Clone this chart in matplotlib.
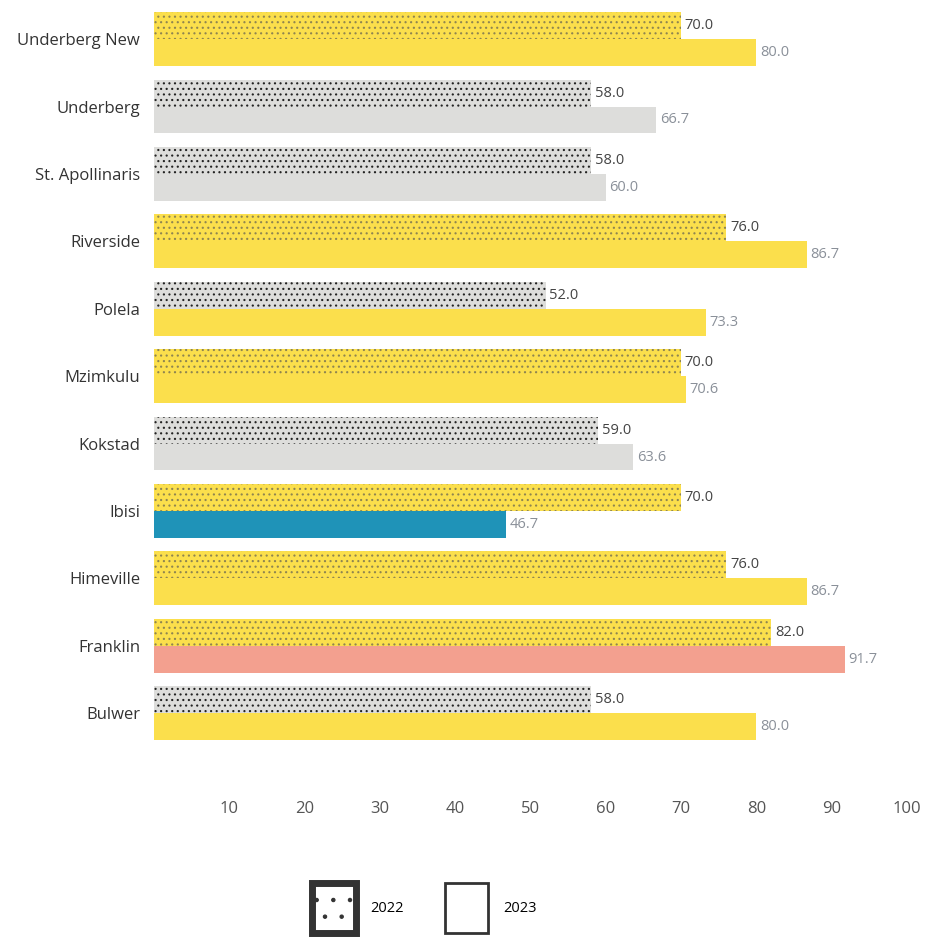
import matplotlib
matplotlib.use("Agg")
import matplotlib.pyplot as plt
from matplotlib.patches import Patch

categories = ["Underberg New", "Underberg", "St. Apollinaris", "Riverside", "Polela",
              "Mzimkulu", "Kokstad", "Ibisi", "Himeville", "Franklin", "Bulwer"]
values_2022 = [70.0, 58.0, 58.0, 76.0, 52.0, 70.0, 59.0, 70.0, 76.0, 82.0, 58.0]
values_2023 = [80.0, 66.7, 60.0, 86.7, 73.3, 70.6, 63.6, 46.7, 86.7, 91.7, 80.0]
status_2022 = ["y", "g", "g", "y", "g", "y", "g", "y", "y", "y", "g"]
status_2023 = ["y", "g", "g", "y", "y", "y", "g", "b", "y", "r", "y"]
xticks = [10, 20, 30, 40, 50, 60, 70, 80, 90, 100]

fill = {"y": "#FBDF4C", "g": "#DDDDDB", "b": "#1F93B8", "r": "#F3A08F"}
dots = {"y": "#8F8550", "g": "#222222", "b": "#222222", "r": "#222222"}

plt.rcParams['font.family'] = ['Open Sans', 'DejaVu Sans']
plt.rcParams['hatch.linewidth'] = 0.8

fig = plt.figure(figsize=(9.25, 9.4), dpi=100)
ax = fig.add_axes([154/925, 1 - 790/940, (907 - 154)/925, 790/940])

n = len(categories)
h = 0.4
for i in range(n):
    ax.barh(i - 0.2, values_2022[i], height=h, color=fill[status_2022[i]],
            edgecolor=dots[status_2022[i]], linewidth=0, hatch='...')
    ax.barh(i + 0.2, values_2023[i], height=h, color=fill[status_2023[i]], linewidth=0)
    ax.text(values_2022[i] + 0.5, i - 0.2, f"{values_2022[i]:.1f}", va='center', ha='left',
            fontsize=10.5, color='#444444')
    ax.text(values_2023[i] + 0.5, i + 0.2, f"{values_2023[i]:.1f}", va='center', ha='left',
            fontsize=10.5, color='#8A9099')

ax.set_xlim(0, 100)
ax.set_ylim(11.14, -0.58)
ax.set_yticks(range(n))
ax.set_yticklabels(categories, fontsize=12, color='#333333')
ax.set_xticks(xticks)
ax.set_xticklabels([str(t) for t in xticks], fontsize=12, color='#555555')
ax.tick_params(axis='both', length=0)
ax.tick_params(axis='y', pad=10)
ax.tick_params(axis='x', pad=8)
for s in ax.spines.values():
    s.set_visible(False)

handles = [Patch(facecolor='white', edgecolor='#333333', hatch='.', linewidth=5, label='2022'),
           Patch(facecolor='white', edgecolor='#333333', linewidth=2, label='2023')]
fig.legend(handles=handles, loc='center left', bbox_to_anchor=(312/925, 1 - 908/940),
           ncol=2, frameon=False, fontsize=10.5, handlelength=3.0, handleheight=5.0,
           columnspacing=2.8, handletextpad=1.0, borderpad=0, borderaxespad=0)

fig.savefig("out.png", dpi=100)
